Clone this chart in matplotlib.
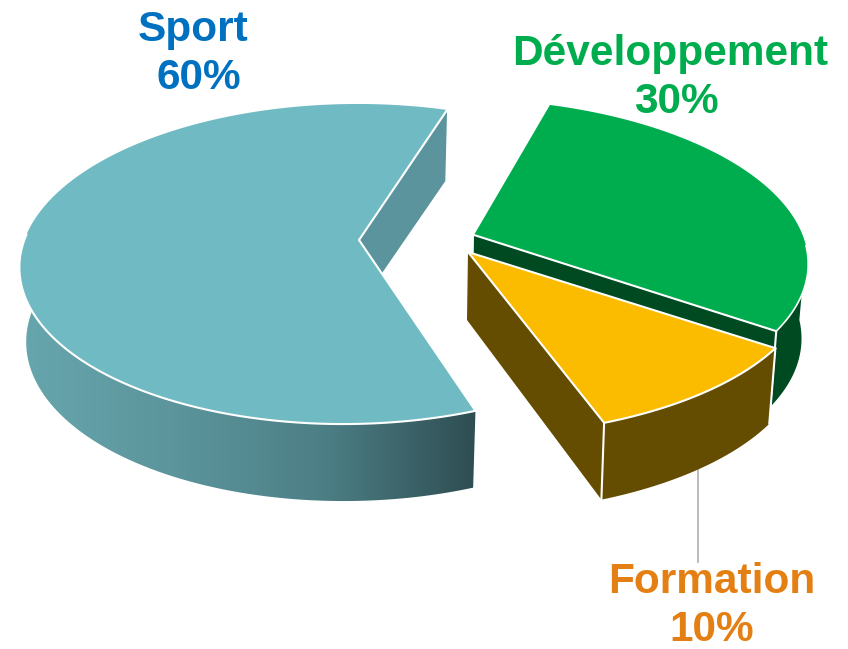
import numpy as np
import matplotlib
matplotlib.use('Agg')
import matplotlib.pyplot as plt
from matplotlib.colors import LinearSegmentedColormap
from matplotlib.patches import Polygon

labels = ['Sport', 'Développement', 'Formation']
shares = [60, 30, 10]

# projection of the disc (pixels)
RX, RY, GX, PERSP_Y, PERSP_X = 327, 156.4, 9.4, 0.15, 0.023
START = 73  # degrees, where Sport begins
plt.rcParams['font.family'] = ['Liberation Sans', 'DejaVu Sans']


def rim(piece, t, scale=1.0, drop=0.0):
    # t in degrees, returns x, y in image pixels
    apex, sx, sh = piece
    t = np.radians(t)
    s, c = np.sin(t), np.cos(t)
    w = 1 + PERSP_Y * s + PERSP_X * c
    up = RY * s / w
    x = (RX * c + GX * s) / w * sx + sh * up
    return apex[0] + x * scale, apex[1] - up + drop


def low(piece, t):
    # lower edge of the wall, a bit deeper towards the viewer
    s = np.sin(np.radians(t))
    return rim(piece, t, 0.98, 74 - 3 * s)


def xy(x, y):
    return np.column_stack([x, y])


fig = plt.figure(figsize=(8.48, 6.49), dpi=100)
ax = fig.add_axes([0, 0, 1, 1])
ax.set_xlim(0, 848)
ax.set_ylim(649, 0)
ax.axis('off')

WHITE = dict(color='white', lw=1.5, solid_capstyle='round')


def wall(piece, t, color, z):
    # straight cut wall going from the apex to the rim at angle t
    apex = piece[0]
    p = rim(piece, t)
    q = low(piece, t)
    ax.add_patch(Polygon([apex, p, q, (apex[0] - 1, apex[1] + 68)], fc=color, ec='none', zorder=z))


def outer(piece, t0, t1, color, z):
    ts = np.linspace(t0, t1, 80)
    pts = np.vstack([xy(*rim(piece, ts)), xy(*low(piece, ts[::-1]))])
    pg = Polygon(pts, fc=color, ec='none', zorder=z)
    ax.add_patch(pg)
    return pg


def top(piece, t0, t1, color, z):
    ts = np.linspace(t0, t1, 200)
    pts = np.vstack([[piece[0]], xy(*rim(piece, ts))])
    ax.add_patch(Polygon(pts, fc=color, ec='none', zorder=z))


def edge(piece, t, z):
    a = piece[0]
    p = rim(piece, t)
    ax.plot([a[0], p[0]], [a[1], p[1]], zorder=z, **WHITE)


def drop_edge(piece, t, z):
    p = rim(piece, t)
    q = low(piece, t)
    ax.plot([p[0], q[0]], [p[1], q[1]], zorder=z, **WHITE)


# angles from the shares
sport_end = START + shares[0] * 3.6
green_end = START - shares[1] * 3.6
yellow_end = green_end - shares[2] * 3.6

# Sport
sport = ((359, 240), 1.0, -0.022)
wall(sport, START, '#5B949C', 1)
pg = outer(sport, 178, sport_end, 'none', 2)
cmap = LinearSegmentedColormap.from_list('side', ['#67A6AD', '#5C959C', '#4C7F85', '#2E4D52'])
im = ax.imshow(np.linspace(0, 1, 256).reshape(1, -1), cmap=cmap, extent=(19, 477, 649, 0),
               aspect='auto', zorder=2)
im.set_clip_path(pg)
ax.set_xlim(0, 848)
ax.set_ylim(649, 0)
top(sport, START, sport_end, '#70BBC3', 3)
ax.plot(*rim(sport, np.linspace(178, sport_end, 120)), zorder=4, **WHITE)
edge(sport, START, 4)
edge(sport, sport_end, 4)

# Développement
green = ((474, 235), 1.028, -0.135)
outer(green, -4, green_end, '#004A22', 5)
wall(green, green_end, '#004A22', 5)
top(green, green_end, START, '#00AD4E', 6)
edge(green, green_end, 7)
drop_edge(green, green_end, 7)
ax.plot(*rim(green, np.linspace(-4, green_end, 40)), zorder=7, color='white', lw=1.2)

# Formation
yellow = ((468, 252), 1.059, -0.098)
wall(yellow, yellow_end, '#644C00', 8)
outer(yellow, green_end, yellow_end, '#644C00', 8)
top(yellow, yellow_end, green_end, '#FBBC00', 9)
ax.plot(*rim(yellow, np.linspace(green_end, yellow_end, 60)), zorder=10, **WHITE)
edge(yellow, yellow_end, 10)
drop_edge(yellow, yellow_end, 10)
edge(yellow, green_end, 10)
drop_edge(yellow, green_end, 10)

# leader line under Formation
ax.plot([698, 698], [455, 562], color='#B5B5B5', lw=1.3, zorder=0)

fs = 30.5
ax.text(193, 30, labels[0], color='#0070C0', fontsize=fs, fontweight='bold', ha='center', va='center')
ax.text(199, 78, f'{shares[0]}%', color='#0070C0', fontsize=fs, fontweight='bold', ha='center', va='center')
ax.text(670, 54, labels[1], color='#00AD4E', fontsize=fs, fontweight='bold', ha='center', va='center')
ax.text(676, 102, f'{shares[1]}%', color='#00AD4E', fontsize=fs, fontweight='bold', ha='center', va='center')
ax.text(712, 582, labels[2], color='#E47F13', fontsize=fs, fontweight='bold', ha='center', va='center')
ax.text(712, 630, f'{shares[2]}%', color='#E47F13', fontsize=fs, fontweight='bold', ha='center', va='center')

fig.savefig('out.png', dpi=100)
